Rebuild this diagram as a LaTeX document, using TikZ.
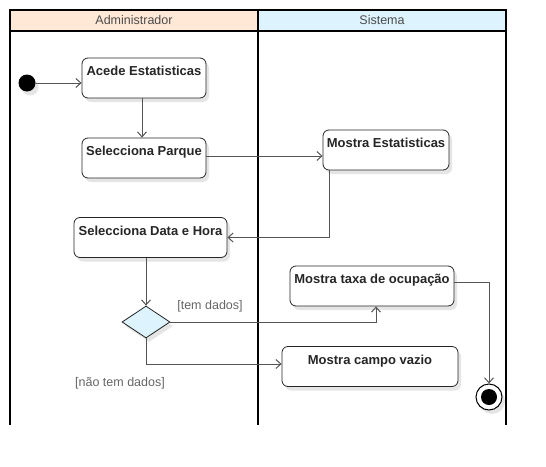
\documentclass[tikz,border=0pt]{standalone}
\usepackage{fontspec}
\setmainfont{Liberation Sans}
\usetikzlibrary{arrows.meta,shapes.geometric,shadows}
\definecolor{corAdmin}{HTML}{FFE9D6}
\definecolor{corSistema}{HTML}{DDF3FD}
\definecolor{corLinha}{HTML}{555555}
\begin{document}
\begin{tikzpicture}[x=1pt,y=-1pt,
    acao/.style={draw=black!85, line width=0.8pt, rounded corners=6pt, fill=white,
        text=black!85, font=\fontsize{13}{11}\selectfont\bfseries, align=center, inner sep=0pt,
        minimum height=40pt,
        drop shadow={fill=black!10, opacity=1, shadow xshift=3pt, shadow yshift=-4pt}},
    fluxo/.style={draw=corLinha, line width=1pt, -{Straight Barb[length=5pt,width=9pt]}},
    guarda/.style={text=black!60, font=\fontsize{12.5}{14}\selectfont},
    cabeca/.style={text=black!70, font=\fontsize{12.5}{14}\selectfont}]
    \useasboundingbox (0,0) rectangle (546,466);

    % raias
    \fill[corAdmin] (10,10) rectangle (258,31);
    \fill[corSistema] (258,10) rectangle (506,31);
    \draw[line width=1.6pt] (10,425) -- (10,10) -- (506,10) -- (506,425);
    \draw[line width=1.6pt] (10,31) -- (506,31);
    \draw[line width=1.6pt] (258,10) -- (258,425);
    \node[cabeca] (admin) at (134,20.5) {Administrador};
    \node[cabeca] (sistema) at (382,20.5) {Sistema};

    % inicio e acoes
    \node[circle, fill=black, minimum size=17pt, inner sep=0pt,
        drop shadow={fill=black!10, opacity=1, shadow xshift=3pt, shadow yshift=-4pt}] (inicio) at (27,83) {};
    \node[acao, minimum width=124pt] (acede) at (144,78) {Acede Estatisticas\\\strut};
    \node[acao, minimum width=124pt] (parque) at (144,158) {Selecciona Parque\\\strut};
    \node[acao, minimum width=126pt] (mostraEst) at (386,150) {Mostra Estatisticas\\\strut};
    \node[acao, minimum width=153pt] (data) at (150.5,237.5) {Selecciona Data e Hora\\\strut};
    \node[diamond, draw=black!85, line width=0.8pt, fill=corSistema, minimum width=48pt,
        minimum height=32pt, inner sep=0pt,
        drop shadow={fill=black!10, opacity=1, shadow xshift=3pt, shadow yshift=-4pt}] (decisao) at (146,322) {};
    \node[acao, minimum width=164pt] (taxa) at (372,286) {Mostra taxa de ocupação\\\strut};
    \node[acao, minimum width=176pt] (vazio) at (370,366.5) {Mostra campo vazio\\\strut};

    % fim
    \node[circle, draw=black, line width=1pt, fill=white, minimum size=26pt, inner sep=0pt,
        drop shadow={fill=black!10, opacity=1, shadow xshift=3pt, shadow yshift=-4pt}] (fim) at (489,397) {};
    \fill (fim) circle (8pt);

    % fluxos
    \draw[fluxo] (inicio) -- (inicio -| acede.west);
    \draw[fluxo] ([xshift=-2pt]acede.south) -- ([xshift=-2pt]parque.north);
    \draw[fluxo] ([yshift=2pt]parque.east) -- ([yshift=2pt]parque.east -| mostraEst.west);
    \draw[fluxo] ([xshift=-57pt]mostraEst.south) |- (data.east);
    \draw[fluxo] (decisao.north |- data.south) -- (decisao.north);
    \draw[fluxo] (decisao.east) -| ([xshift=4pt]taxa.south);
    \draw[fluxo] (decisao.south) |- ([yshift=2.5pt]vazio.west);
    \draw[fluxo] ([yshift=4pt]taxa.east) -| (fim.north);

    \node[guarda] (temDados) at (210,306) {[tem dados]};
    \node[guarda] (naoTem) at (120,383) {[não tem dados]};
\end{tikzpicture}
\end{document}
